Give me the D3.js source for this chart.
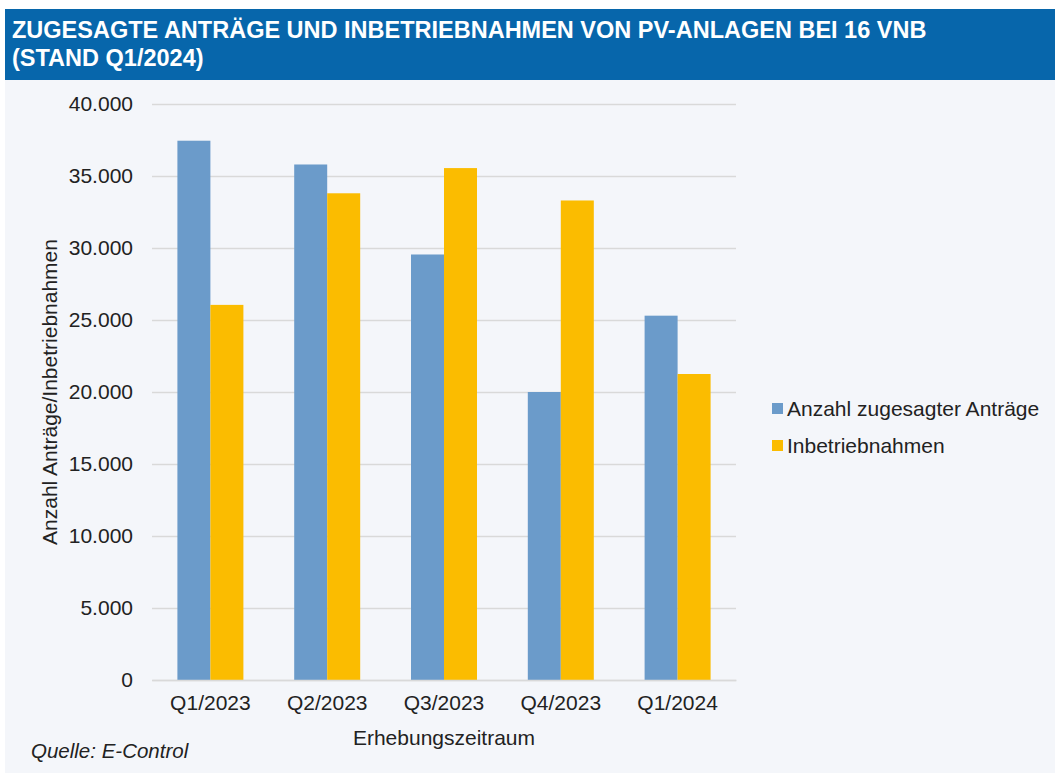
<!DOCTYPE html>
<html>
<head>
<meta charset="utf-8">
<script src="https://cdn.jsdelivr.net/npm/d3@7"></script>
<style>
  body { margin: 0; background: #fff; }
  svg { display: block; font-family: "Liberation Sans", Arial, sans-serif; }
</style>
</head>
<body>
<div class="chart"></div>
<script>
// data
const categories = ["Q1/2023", "Q2/2023", "Q3/2023", "Q4/2023", "Q1/2024"];
const seriesNames = ["Anzahl zugesagter Anträge", "Inbetriebnahmen"];
const antraege = [37450, 35800, 29550, 20000, 25300];
const inbetrieb = [26050, 33800, 35550, 33300, 21250];
const yTicks = [0, 5000, 10000, 15000, 20000, 25000, 30000, 35000, 40000];
const colors = ["#6b9bca", "#fbbc00"];

const W = 1055, H = 773;
const margin = { top: 104, right: 319, bottom: 93, left: 152 };
const fontSize = 21;

const svg = d3.select(".chart").append("svg")
    .attr("width", W)
    .attr("height", H);

// background + header
svg.append("rect").attr("x", 5).attr("y", 80).attr("width", W - 5).attr("height", H - 80)
    .attr("fill", "#f4f6fa");
svg.append("rect").attr("x", 5).attr("y", 9).attr("width", W - 5).attr("height", 71)
    .attr("fill", "#0766ab");
const title = svg.append("text")
    .attr("fill", "#fff")
    .attr("font-size", 23.5).attr("font-weight", "bold");
title.append("tspan").attr("x", 12).attr("y", 38)
    .text("ZUGESAGTE ANTRÄGE UND INBETRIEBNAHMEN VON PV-ANLAGEN BEI 16 VNB");
title.append("tspan").attr("x", 12).attr("y", 66)
    .text("(STAND Q1/2024)");

// scales
const x = d3.scaleBand()
    .domain(categories)
    .range([margin.left, W - margin.right])
    .paddingInner(0.435)
    .paddingOuter(0.2175);
const xs = d3.scaleBand()
    .domain(seriesNames)
    .range([0, x.bandwidth()]);
const y = d3.scaleLinear()
    .domain([0, 40000])
    .range([H - margin.bottom, margin.top]);

const fmt = d => d3.format(",")(d).replace(/,/g, ".");

// gridlines + y ticks
svg.append("g")
    .attr("transform", `translate(${margin.left},0)`)
    .call(d3.axisLeft(y).tickValues(yTicks).tickSize(-(W - margin.left - margin.right)).tickFormat(fmt).tickPadding(19))
    .call(g => g.select(".domain").remove())
    .call(g => g.selectAll(".tick line").attr("stroke", "#d9d9d9").attr("stroke-width", 1.3))
    .call(g => g.selectAll(".tick text").attr("font-size", fontSize).attr("fill", "#222")
        .attr("font-family", "Liberation Sans, Arial, sans-serif"));

// bars
const rows = categories.map((c, i) => ({ cat: c, vals: [antraege[i], inbetrieb[i]] }));
svg.append("g")
    .selectAll("g")
    .data(rows)
    .join("g")
    .attr("transform", d => `translate(${x(d.cat)},0)`)
    .selectAll("rect")
    .data(d => d.vals.map((v, j) => ({ key: seriesNames[j], v: v, j: j })))
    .join("rect")
    .attr("x", d => xs(d.key))
    .attr("y", d => y(d.v))
    .attr("width", xs.bandwidth())
    .attr("height", d => y(0) - y(d.v))
    .attr("fill", d => colors[d.j]);

// x axis
svg.append("g")
    .attr("transform", `translate(0,${H - margin.bottom})`)
    .call(d3.axisBottom(x).tickSize(0).tickPadding(15))
    .call(g => g.select(".domain").attr("stroke", "#d9d9d9").attr("stroke-width", 1.3))
    .call(g => g.selectAll(".tick text").attr("font-size", fontSize).attr("fill", "#222")
        .attr("font-family", "Liberation Sans, Arial, sans-serif"));

// axis titles
svg.append("text")
    .attr("x", (margin.left + W - margin.right) / 2)
    .attr("y", 745)
    .attr("text-anchor", "middle")
    .attr("font-size", fontSize).attr("fill", "#222")
    .text("Erhebungszeitraum");
svg.append("text")
    .attr("transform", `translate(57,392) rotate(-90)`)
    .attr("text-anchor", "middle")
    .attr("font-size", fontSize).attr("fill", "#222")
    .text("Anzahl Anträge/Inbetriebnahmen");

// source
svg.append("text")
    .attr("x", 31).attr("y", 758)
    .attr("font-size", 20.5).attr("font-style", "italic").attr("fill", "#222")
    .text("Quelle: E-Control");

// legend
const legend = svg.append("g").attr("transform", "translate(772,403)");
seriesNames.forEach((s, i) => {
    const g = legend.append("g").attr("transform", `translate(0,${i * 37})`);
    g.append("rect").attr("x", 0).attr("y", 0).attr("width", 11).attr("height", 11).attr("fill", colors[i]);
    g.append("text").attr("x", 15).attr("y", 13)
        .attr("font-size", fontSize).attr("fill", "#222").text(s);
});
</script>
</body>
</html>
